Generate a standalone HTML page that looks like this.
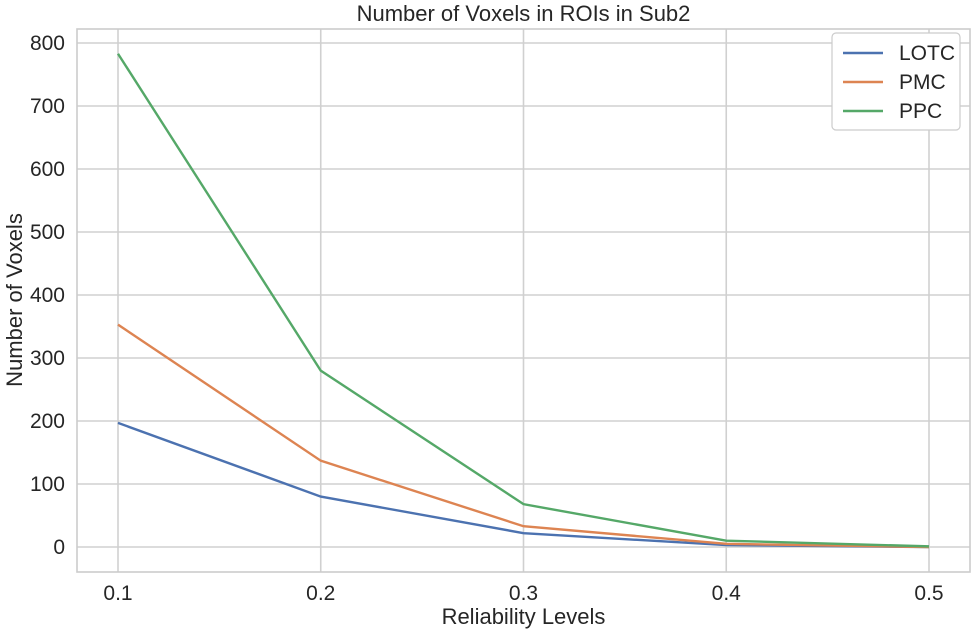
<!DOCTYPE html>
<html><head><meta charset="utf-8"><style>
body{margin:0;background:#fff;font-family:"Liberation Sans",sans-serif}
text{font-family:"Liberation Sans",sans-serif;fill:#262626}
</style></head><body>
<svg id="c" width="976" height="635"></svg>
<script>
const categories=[0.1,0.2,0.3,0.4,0.5];
const lotc=[197,80,22,3,0];
const pmc=[353,137,33,5,0];
const ppc=[783,280,68,10,1];
const yTicks=[0,100,200,300,400,500,600,700,800];
const xTickLabels=["0.1","0.2","0.3","0.4","0.5"];
const L=77,R=970,T=29,B=572;
const xs=v=>118+(v-0.1)/0.4*811;
const ys=v=>547-v*0.63;
const svg=document.getElementById('c');const NS='http://www.w3.org/2000/svg';
function mk(t,a,p){const e=document.createElementNS(NS,t);for(const k in a)e.setAttribute(k,a[k]);(p||svg).appendChild(e);return e;}
const g=mk('g',{});
yTicks.forEach(v=>{const l=mk('line',{x1:L,x2:R,y1:ys(v),y2:ys(v),stroke:'#d0d0d0','stroke-width':1.6},g);
const t=mk('text',{x:L-12,y:ys(v)+7,'text-anchor':'end','font-size':21});t.textContent=v;
});
categories.forEach((v,i)=>{mk('line',{x1:xs(v),x2:xs(v),y1:T,y2:B,stroke:'#d0d0d0','stroke-width':1.6},g);
const t=mk('text',{x:xs(v),y:B+28,'text-anchor':'middle','font-size':21});t.textContent=xTickLabels[i];
});
const fr=mk('rect',{x:L,y:T,width:R-L,height:B-T,fill:'none',stroke:'#cccccc','stroke-width':1.6});

const series=[[lotc,'#4c72b0','lotc-line'],[pmc,'#dd8452','pmc-line'],[ppc,'#55a868','ppc-line']];
series.forEach(s=>{const p=mk('polyline',{points:s[0].map((v,i)=>xs(categories[i])+','+ys(v)).join(' '),fill:'none',stroke:s[1],'stroke-width':2.4});
});
let t=mk('text',{x:(L+R)/2,y:21,'text-anchor':'middle','font-size':22});t.textContent='Number of Voxels in ROIs in Sub2';

t=mk('text',{x:(L+R)/2,y:624,'text-anchor':'middle','font-size':22});t.textContent='Reliability Levels';

t=mk('text',{x:0,y:0,'text-anchor':'middle','font-size':22,transform:'translate(22,300) rotate(-90)'});t.textContent='Number of Voxels';

const lg=mk('g',{});
mk('rect',{x:832,y:33,width:128,height:97,rx:4,fill:'#fff',stroke:'#cccccc','stroke-width':1.2},lg);
[['LOTC','#4c72b0'],['PMC','#dd8452'],['PPC','#55a868']].forEach((e,i)=>{const y=53+i*29;
const l=mk('line',{x1:843,x2:883,y1:y,y2:y,stroke:e[1],'stroke-width':2.4},lg);

const tx=mk('text',{x:899,y:y+7,'font-size':21},lg);tx.textContent=e[0];
});
</script></body></html>
